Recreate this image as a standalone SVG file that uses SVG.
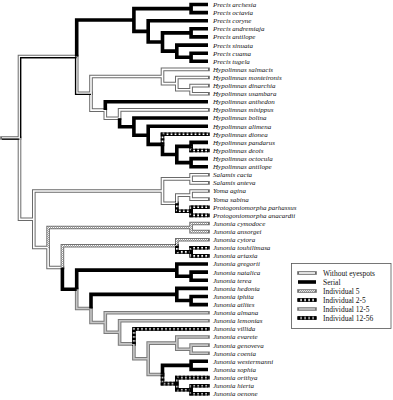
<svg xmlns="http://www.w3.org/2000/svg" xmlns:xlink="http://www.w3.org/1999/xlink" width="393" height="400" viewBox="0 0 393 400">
<style>
.lab{font-family:"Liberation Serif","Times New Roman",serif;font-style:italic;font-size:7px;fill:#111}
.leg{font-family:"Liberation Serif","Times New Roman",serif;font-size:7.5px;fill:#111}
.o{fill:none;stroke-width:3.6;stroke-linecap:square;stroke-linejoin:miter}
.i{fill:none;stroke-width:1.6;stroke-linejoin:miter}
.cW{stroke:#6a6a6a}.cG{stroke:#7a7a7a}.cH{stroke:#707070}.cD{stroke:#111}
.fW{stroke:#fff}.fG{stroke:#c6c6c6}.fH{stroke:url(#hatch)}.fD{stroke:#fff}.fE{stroke:#bbb}
.dash{fill:none;stroke:#000;stroke-width:3.6;stroke-dasharray:2.2 1.8}
.s{fill:none;stroke:#000;stroke-width:3.6;stroke-linejoin:miter}
.eq{fill:none;stroke:#000;stroke-width:1.3}
</style>
<defs>
<pattern id="hatch" patternUnits="userSpaceOnUse" width="2" height="2"><rect width="2" height="2" fill="#fff"/><path d="M-0.5,0.5L0.5,-0.5M0,2L2,0M1.5,2.5L2.5,1.5" stroke="#666" stroke-width="0.6"/></pattern>
<path id="pW" d="M19.5,138V219.3H33.8M91,93.3V76.5H162.5M91,93.3V110.1H105.3M162.5,76.5V69.4H208M162.5,76.5V83.6H176.8M176.8,83.6V77.5H208M176.8,83.6V89.7H191.1M191.1,89.7V85.6H208M191.1,89.7V93.7H208M105.3,110.1V118.3H119.6M119.6,118.3V109.9H208M33.8,219.3V191H162.5M33.8,219.3V247.5H48.1M162.5,191V178.9H191.1M162.5,191V203.2H176.8M191.1,178.9V174.8H208M191.1,178.9V182.9H208M176.8,203.2V195.1H191.1M191.1,195.1V191H208M191.1,195.1V199.1H208M48.1,247.5V267.5H62.4"/>
<path id="pEQ" d="M2,138H19.5M19.5,138V56.6H76.7M76.7,56.6V93.3H91"/>
<path id="pG" d="M76.7,289.3V308.5H91M91,308.5V322.5H105.3M105.3,322.5V312.7H208M105.3,322.5V332.3H119.6M119.6,332.3V320.8H208M119.6,332.3V343.9H133.9M133.9,343.9V358.8H148.2M148.2,358.8V343.1H176.8M176.8,343.1V337H208M176.8,343.1V349.2H191.1M191.1,349.2V345.1H208M191.1,349.2V353.2H208M148.2,358.8V374.5H162.5"/>
<path id="pH" d="M48.1,247.5V227.5H191.1M191.1,227.5V223.5H208M191.1,227.5V231.6H208M62.4,267.5V245.8H176.8M176.8,245.8V239.7H208"/>
<path id="pD" d="M176.8,203.2V211.3H191.1M191.1,211.3V207.3H208M191.1,211.3V215.4H208M176.8,245.8V251.9H191.1M191.1,251.9V247.8H208M191.1,251.9V255.9H208M162.5,144.4V134.3H208M191.1,146.4V150.5H208"/>
<path id="pE" d="M133.9,343.9V328.9H208M162.5,374.5V383.6H176.8M176.8,383.6V377.6H208M176.8,383.6V389.7H191.1M191.1,389.7V385.7H208M191.1,389.7V393.8H208"/>
</defs>
<rect width="393" height="400" fill="#fff"/>
<g id="connectors">
<use href="#pW" class="o cW"/>
<use href="#pEQ" class="o cW"/>
<use href="#pG" class="o cG"/>
<use href="#pH" class="o cH"/>
<use href="#pD" class="o cD"/>
<use href="#pE" class="o cD"/>
<use href="#pW" class="i fW"/>
<use href="#pEQ" class="i fW"/>
<use href="#pG" class="i fG"/>
<use href="#pH" class="i fH"/>
<use href="#pD" class="i fD"/>
<use href="#pE" class="i fE"/>
<use href="#pD" class="dash"/>
<use href="#pE" class="dash"/>
<path class="eq" d="M2,139.1H19.5M20.6,138V57.7H76.7M75.6,56.6V94.4H91"/>
<path class="s" d="M76.7,56.6V20H133.9M133.9,20V8.6H191.1M133.9,20V31.4H148.2M191.1,8.6V4.5H208M191.1,8.6V12.6H208M148.2,31.4V20.7H208M148.2,31.4V42H162.5M162.5,42V32.9H191.1M162.5,42V51.1H176.8M191.1,32.9V28.8H208M191.1,32.9V36.9H208M176.8,51.1V45.1H208M176.8,51.1V57.2H191.1M191.1,57.2V53.2H208M191.1,57.2V61.3H208M105.3,110.1V101.8H208M119.6,118.3V126.7H133.9M133.9,126.7V118H208M133.9,126.7V135.3H148.2M148.2,135.3V126.2H208M148.2,135.3V144.4H162.5M162.5,144.4V154.5H176.8M176.8,154.5V146.4H191.1M176.8,154.5V162.6H191.1M191.1,146.4V142.4H208M191.1,162.6V158.6H208M191.1,162.6V166.7H208M62.4,267.5V289.3H76.7M76.7,289.3V270.1H176.8M176.8,270.1V264H208M176.8,270.1V276.2H191.1M191.1,276.2V272.1H208M191.1,276.2V280.2H208M91,308.5V294.4H176.8M176.8,294.4V288.4H208M176.8,294.4V300.5H191.1M191.1,300.5V296.5H208M191.1,300.5V304.6H208M162.5,374.5V365.4H191.1M191.1,365.4V361.3H208M191.1,365.4V369.5H208"/>
</g>
<g class="lab">
<g id="t01"><text x="213" y="6.9">Precis archesia</text></g>
<g id="t02"><text x="213" y="15">Precis octavia</text></g>
<g id="t03"><text x="213" y="23.1">Precis coryne</text></g>
<g id="t04"><text x="213" y="31.2">Precis andremiaja</text></g>
<g id="t05"><text x="213" y="39.3">Precis antilope</text></g>
<g id="t06"><text x="213" y="47.5">Precis sinuata</text></g>
<g id="t07"><text x="213" y="55.6">Precis cuama</text></g>
<g id="t08"><text x="213" y="63.7">Precis tugela</text></g>
<g id="t09"><text x="213" y="71.8">Hypolimnas salmacis</text></g>
<g id="t10"><text x="213" y="79.9">Hypolimnas monteironis</text></g>
<g id="t11"><text x="213" y="88">Hypolimnas dinarchia</text></g>
<g id="t12"><text x="213" y="96.1">Hypolimnas usambara</text></g>
<g id="t13"><text x="213" y="104.2">Hypolimnas anthedon</text></g>
<g id="t14"><text x="213" y="112.3">Hypolimnas misippus</text></g>
<g id="t15"><text x="213" y="120.4">Hypolimnas bolina</text></g>
<g id="t16"><text x="213" y="128.6">Hypolimnas alimena</text></g>
<g id="t17"><text x="213" y="136.7">Hypolimnas dionea</text></g>
<g id="t18"><text x="213" y="144.8">Hypolimnas pandarus</text></g>
<g id="t19"><text x="213" y="152.9">Hypolimnas deois</text></g>
<g id="t20"><text x="213" y="161">Hypolimnas octocula</text></g>
<g id="t21"><text x="213" y="169.1">Hypolimnas antilope</text></g>
<g id="t22"><text x="213" y="177.2">Salamis cacta</text></g>
<g id="t23"><text x="213" y="185.3">Salamis anteva</text></g>
<g id="t24"><text x="213" y="193.4">Yoma agina</text></g>
<g id="t25"><text x="213" y="201.5">Yoma sabina</text></g>
<g id="t26"><text x="213" y="209.7">Protogoniomorpha parhassus</text></g>
<g id="t27"><text x="213" y="217.8">Protogoniomorpha anacardii</text></g>
<g id="t28"><text x="213" y="225.9">Junonia cymodoce</text></g>
<g id="t29"><text x="213" y="234">Junonia ansorgei</text></g>
<g id="t30"><text x="213" y="242.1">Junonia cytora</text></g>
<g id="t31"><text x="213" y="250.2">Junonia touhilimasa</text></g>
<g id="t32"><text x="213" y="258.3">Junonia artaxia</text></g>
<g id="t33"><text x="213" y="266.4">Junonia gregorii</text></g>
<g id="t34"><text x="213" y="274.5">Junonia natalica</text></g>
<g id="t35"><text x="213" y="282.6">Junonia terea</text></g>
<g id="t36"><text x="213" y="290.8">Junonia hedonia</text></g>
<g id="t37"><text x="213" y="298.9">Junonia iphita</text></g>
<g id="t38"><text x="213" y="307">Junonia atlites</text></g>
<g id="t39"><text x="213" y="315.1">Junonia almana</text></g>
<g id="t40"><text x="213" y="323.2">Junonia lemonias</text></g>
<g id="t41"><text x="213" y="331.3">Junonia villida</text></g>
<g id="t42"><text x="213" y="339.4">Junonia evarete</text></g>
<g id="t43"><text x="213" y="347.5">Junonia genoveva</text></g>
<g id="t44"><text x="213" y="355.6">Junonia coenia</text></g>
<g id="t45"><text x="213" y="363.7">Junonia westermanni</text></g>
<g id="t46"><text x="213" y="371.9">Junonia sophia</text></g>
<g id="t47"><text x="213" y="380">Junonia orithya</text></g>
<g id="t48"><text x="213" y="388.1">Junonia hierta</text></g>
<g id="t49"><text x="213" y="396.2">Junonia oenone</text></g>
</g>
<g id="legend">
<rect x="291.5" y="263.5" width="99.5" height="65" fill="#fff" stroke="#555" stroke-width="0.8"/>
<path class="o cW" d="M299,273H315"/><path class="i fW" d="M299,273H315"/>
<path class="s" d="M298,282H316"/>
<path class="o cH" d="M299,291H315"/><path class="i fH" d="M299,291H315"/>
<path class="o cD" d="M299,300H315"/><path class="i fD" d="M299,300H315"/><path class="dash" d="M298,300H316"/>
<path class="o cG" d="M299,309H315"/><path class="i fG" d="M299,309H315"/>
<path class="o cD" d="M299,318H315"/><path class="i fE" d="M299,318H315"/><path class="dash" d="M298,318H316"/>
<text class="leg" x="323" y="275.5">Without eyespots</text>
<text class="leg" x="323" y="284.5">Serial</text>
<text class="leg" x="323" y="293.5">Individual 5</text>
<text class="leg" x="323" y="302.5">Individual 2-5</text>
<text class="leg" x="323" y="311.5">Individual 12-5</text>
<text class="leg" x="323" y="320.5">Individual 12-56</text>
</g>
</svg>
